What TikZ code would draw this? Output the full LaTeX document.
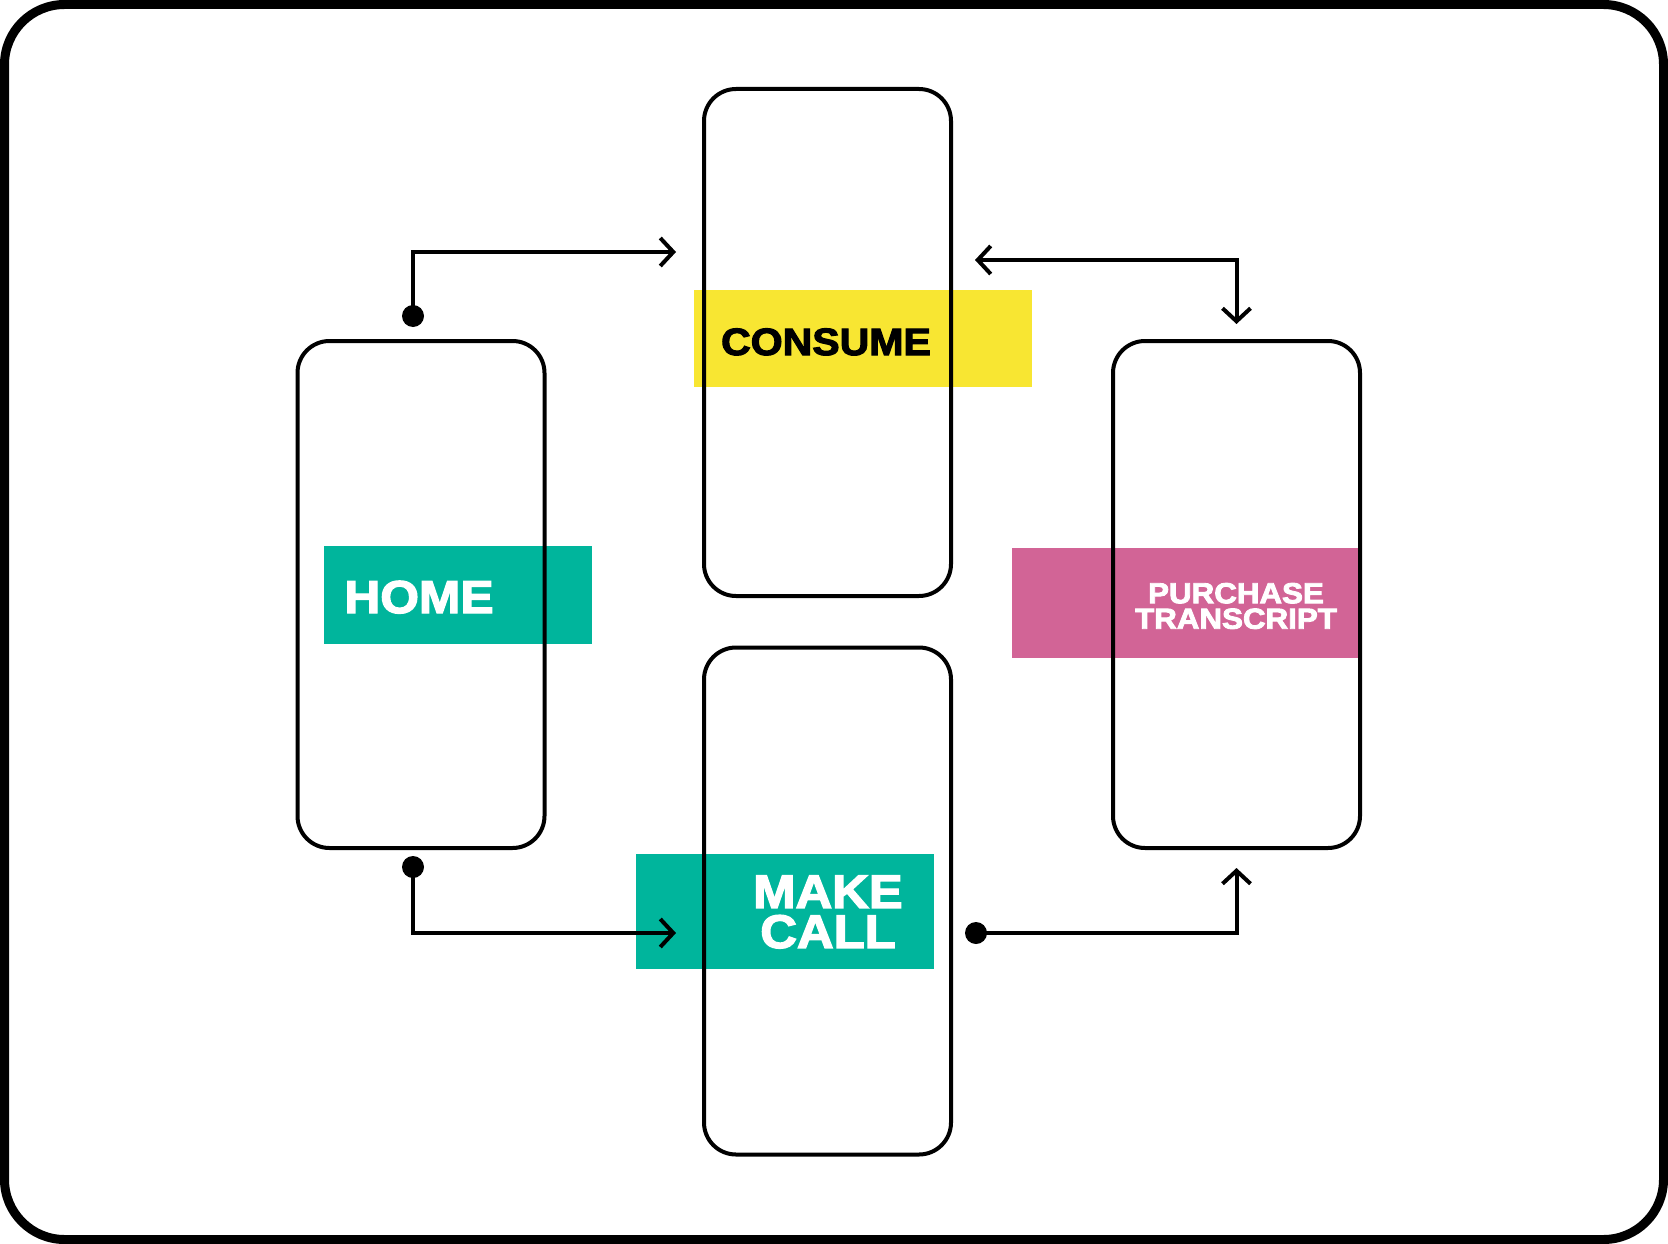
\documentclass[tikz,border=0pt]{standalone}
\usepackage{fontspec}
\usetikzlibrary{arrows.meta, positioning}

\newfontfamily\labelfont{Liberation Sans}[BoldFeatures={FakeStretch=1.08,FakeBold=3}]
\definecolor{labelgreen}{RGB}{0,181,156}
\definecolor{labelyellow}{RGB}{248,230,50}
\definecolor{labelpink}{RGB}{210,100,150}

\begin{document}
\begin{tikzpicture}[
      x=1pt, y=-1pt,
      phone/.style={draw, line width=4pt, rounded corners=32pt, minimum width=247pt, minimum height=507pt, inner sep=0pt},
      labelbox/.style={inner sep=0pt, outer sep=0pt},
      labeltext/.style={font=\labelfont\bfseries, align=center, inner sep=0pt},
      dot/.style={circle, fill, inner sep=0pt, minimum size=22pt},
      flow/.style={line width=4pt, -{Straight Barb[length=13pt,width=28pt]}}
    ]
    \useasboundingbox (0,0) rectangle (1668,1244);
    \node[draw, line width=9pt, rounded corners=60pt, minimum width=1659pt, minimum height=1235pt, inner sep=0pt] (frame) at (834,622) {};

    % coloured label boxes, the phones are drawn over them
    \node[labelbox, fill=labelgreen, minimum width=268pt, minimum height=98pt] (homebox) at (458,595) {};
    \node[labelbox, fill=labelyellow, minimum width=338pt, minimum height=97pt] (consumebox) at (863,338.5) {};
    \node[labelbox, fill=labelgreen, minimum width=298pt, minimum height=115pt] (callbox) at (785,911.5) {};
    \node[labelbox, fill=labelpink, minimum width=350pt, minimum height=110pt] (purchasebox) at (1187,603) {};

    \node[phone] (home) at (421,594.5) {};
    \node[phone] (consume) at (827.5,342.5) {};
    \node[phone] (call) at (827.5,901) {};
    \node[phone] (purchase) at (1236.5,594.5) {};

    \node[labeltext, anchor=base, text=white, font=\labelfont\bfseries\fontsize{46}{46}\selectfont] (hometext) at (419,613) {HOME};
    \node[labeltext, anchor=base, text=black, font=\labelfont\bfseries\fontsize{38}{38}\selectfont] (consumetext) at (826,355) {CONSUME};
    \node[labeltext, text=white, font=\labelfont\bfseries\fontsize{47}{40}\selectfont] (calltext) at (828,912) {MAKE\\CALL};
    \node[labeltext, text=white, font=\labelfont\bfseries\fontsize{29}{25.5}\selectfont] (purchasetext) at (1236,606) {PURCHASE\\TRANSCRIPT};

    % connectors
    \node[dot] (homeup) at (413,316) {};
    \node[dot] (homedown) at (413,867) {};
    \node[dot] (callout) at (976,933) {};
    \coordinate (consumein) at (676,252);
    \coordinate (callin) at (676,933);
    \coordinate (consumeout) at (975,260);
    \coordinate[above=15pt of purchase.north] (purchasetop);
    \coordinate[below=18pt of purchase.south] (purchasein);

    \draw[flow] (homeup.center) |- (consumein);
    \draw[flow] (homedown.center) |- (callin);
    \draw[flow] (callout.center) -| (purchasein);
    \draw[flow, {Straight Barb[length=13pt,width=28pt]}-{Straight Barb[length=13pt,width=28pt]}] (consumeout) -| (purchasetop);
\end{tikzpicture}
\end{document}
